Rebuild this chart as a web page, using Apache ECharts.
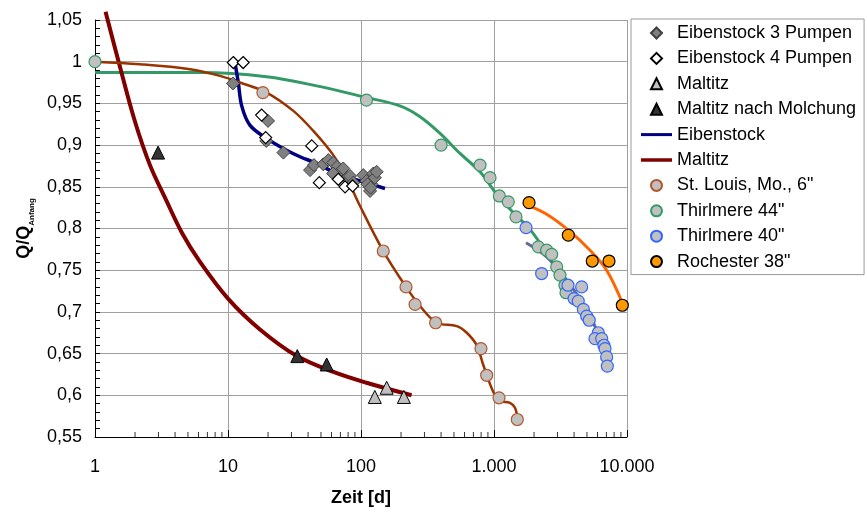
<!DOCTYPE html>
<html><head><meta charset="utf-8">
<script src="https://cdn.jsdelivr.net/npm/echarts@6/dist/echarts.min.js"></script>
<style>html,body{margin:0;padding:0;background:#fff}#c{width:867px;height:512px}</style>
</head><body><div id="c"></div>
<script>
// ---- data (x = Zeit [d], y = Q/Q_Anfang) ----
const eib3 = [[10.9,0.974],[20.0,0.929],[19.4,0.905],[26.1,0.891],[41.4,0.870],[44.3,0.876],[52.1,0.877],[56.8,0.882],[61.9,0.879],[66.0,0.874],[69.5,0.868],[61.7,0.866],[78.0,0.861],[73.5,0.872],[82.7,0.863],[87.5,0.855],[104,0.864],[110,0.857],[124,0.866],[120,0.853],[117,0.845],[127,0.861],[112,0.853],[131,0.868],[118,0.849]];
const eib4 = [[10.96,0.999],[13.0,0.999],[17.9,0.936],[19.2,0.909],[42.6,0.899],[48.6,0.855],[67.5,0.859],[75.9,0.850],[86.5,0.851]];
const maltitz = [[127,0.598],[156,0.609],[210,0.598]];
const maltitzMolch = [[2.98,0.891],[33.2,0.647],[55.2,0.637]];
const eibLine = [[11.25,1.0],[11.95,0.975],[12.68,0.947],[14.6,0.924],[19.5,0.908],[26.0,0.896],[34.8,0.886],[46.4,0.878],[69.5,0.864],[98.3,0.857],[151.5,0.848]];
const maltitzLine = [[1.2,1.06],[1.54,0.994],[2.0,0.928],[2.59,0.876],[3.36,0.837],[4.5,0.795],[6.16,0.76],[10,0.716],[17.4,0.679],[33,0.647],[62,0.628],[110,0.615],[240,0.600]];
const stLouis = [[18.3,0.963],[147,0.773],[218,0.730],[255,0.709],[364,0.687],[798,0.656],[881,0.624],[1091,0.597],[1497,0.571]];
const stLouisLine = [[1,1.0],[2.18,0.997],[5.18,0.991],[8.71,0.983],[12.3,0.975],[19.5,0.963],[31.0,0.941],[43.8,0.917],[61.9,0.888],[78.0,0.861],[98.3,0.827],[147,0.773],[218,0.730],[278,0.707],[371,0.687],[525,0.683],[624,0.675],[741,0.660],[832,0.636],[988,0.604],[1109,0.593],[1318,0.591],[1438,0.585],[1497,0.573]];
const thirl44 = [[1,1.0],[110,0.954],[400,0.900],[785,0.876],[933,0.861],[1097,0.839],[1281,0.832],[1463,0.814],[2153,0.778],[2489,0.774],[2716,0.769],[2959,0.754],[3134,0.744],[3417,0.732],[3478,0.723]];
const thirl44Line = [[1,0.987],[6.16,0.987],[19.5,0.982],[46.4,0.971],[110,0.957],[196,0.947],[278,0.934],[393,0.914],[555,0.890],[785,0.868],[1048,0.841],[1397,0.819],[1865,0.799],[2489,0.770],[3523,0.727]];
const thirl40 = [[1741,0.801],[2281,0.746],[3600,0.732],[4560,0.730],[4000,0.716],[4300,0.713],[4698,0.703],[4976,0.695],[5200,0.690],[6083,0.675],[5743,0.668],[6452,0.668],[6700,0.660],[6837,0.656],[7028,0.646],[7112,0.635]];
const thirl40Line = [[1741,0.783],[2489,0.766],[3523,0.738],[4436,0.715],[5580,0.687],[7244,0.644]];
const rochester = [[1834,0.831],[3622,0.792],[5481,0.761],[7322,0.761],[9222,0.708]];
const rochesterLine = [[1834,0.827],[2489,0.817],[3622,0.798],[5270,0.774],[7028,0.750],[9222,0.711]];
// axis ticks
const yTicks = [0.55,0.6,0.65,0.7,0.75,0.8,0.85,0.9,0.95,1,1.05];
const decades = [1,10,100,1000];
const minorMult = [2,3,4,5,6,7,8,9];
const legendNames = ['Eibenstock 3 Pumpen','Eibenstock 4 Pumpen','Maltitz','Maltitz nach Molchung','Eibenstock','Maltitz ','St. Louis, Mo., 6"','Thirlmere 44"','Thirlmere 40"','Rochester 38"'];

const xMinor = [];
decades.forEach(d => minorMult.forEach(m => xMinor.push([d*m, yTicks[0]])));

const FONT = '"Liberation Sans", Arial, sans-serif';
function fmtY(v){ return (Math.round(v*100)/100).toString().replace('.', ','); }
function fmtX(v){ return String(Math.round(v)).replace(/\B(?=(\d{3})+(?!\d))/g, '.'); }

const ICON_DIAMOND = 'path://M0,-1L1,0L0,1L-1,0Z';
const ICON_TRI = 'path://M0,-1L1,1L-1,1Z';
const legendIcons = [ICON_DIAMOND, ICON_DIAMOND, ICON_TRI, ICON_TRI,
  'path://M0,0L31,0L31,3L0,3Z', 'path://M0,0L31,0L31,3.5L0,3.5Z',
  'circle','circle','circle','circle'];

function pts(name, data, symbol, size, fill, border, bw, z){
  return {name, type:'scatter', data, symbol, symbolSize:size, z:z||5,
    itemStyle:{color:fill, borderColor:border, borderWidth:bw||1, opacity:1},
    emphasis:{disabled:true}};
}
function line(name, data, color, width, z, extra){
  return Object.assign({name, type:'line', data, smooth:0.35, symbol:'none', showSymbol:false, z:z||3,
    lineStyle:{color, width}, itemStyle:{color}, emphasis:{disabled:true}}, extra||{});
}

const chart = echarts.init(document.getElementById('c'), null, {renderer:'canvas'});
chart.setOption({
  animation:false,
  backgroundColor:'#fff',
  grid:{left:95, right:240, top:20, bottom:69, containLabel:false},
  legend:{
    data: legendNames.map((n,i)=>({name:n, icon:legendIcons[i]})),
    orient:'vertical', left:631, top:19, itemWidth:31, itemHeight:11, itemGap:5.4,
    padding:[4,8,3,10], borderColor:'#999', borderWidth:1, backgroundColor:'#fff',
    textStyle:{fontFamily:FONT, fontSize:18, color:'#000', lineHeight:20},
    selectedMode:false
  },
  xAxis:{type:'log', logBase:10, min:1, max:10000,
    axisLine:{show:true, onZero:false, lineStyle:{color:'#000', width:1}},
    axisTick:{show:true, inside:true, length:7, lineStyle:{color:'#000'}},
    axisLabel:{fontFamily:FONT, fontSize:18, color:'#000', margin:21, formatter:fmtX},
    splitLine:{show:true, lineStyle:{color:'#a0a0a0', width:1}},
    name:'Zeit [d]', nameLocation:'middle', nameGap:52,
    nameTextStyle:{fontFamily:FONT, fontSize:18, fontWeight:'bold', color:'#000'}
  },
  yAxis:{type:'value', min:yTicks[0], max:yTicks[yTicks.length-1], interval:0.05,
    axisLine:{show:true, onZero:false, lineStyle:{color:'#000', width:1}},
    axisTick:{show:true, inside:true, length:5, lineStyle:{color:'#000'}},
    minorTick:{show:true, splitNumber:5, length:5, lineStyle:{color:'#000'}},
    axisLabel:{fontFamily:FONT, fontSize:18, color:'#000', margin:13, formatter:fmtY},
    splitLine:{show:true, lineStyle:{color:'#a0a0a0', width:1}},
    name:'{a|Q/Q}{b|Anfang}', nameLocation:'middle', nameGap:62, nameRotate:90,
    nameTextStyle:{color:'#000', rich:{
      a:{fontFamily:FONT, fontSize:18, fontWeight:'bold', color:'#000'},
      b:{fontFamily:FONT, fontSize:8, fontWeight:'bold', color:'#000', verticalAlign:'bottom', padding:[0,0,-3,0]}
    }}
  },
  series:[
    {name:'xMinorTicks', type:'scatter', data:xMinor, symbol:'rect', symbolSize:[1,5], symbolOffset:[0,-2.5],
      itemStyle:{color:'#000'}, silent:true, z:1, legendHoverLink:false, emphasis:{disabled:true}},
    line('thirl44Fit', thirl44Line, '#339966', 3, 3),
    line('thirl40Fit', thirl40Line, '#666699', 3, 3),
    line('rochesterFit', rochesterLine, '#ff6600', 3, 3),
    line('Eibenstock', eibLine, '#000080', 3.5, 3),
    pts('Eibenstock 3 Pumpen', eib3, 'diamond', 13, '#808080', '#404040', 1, 4),
    pts('Eibenstock 4 Pumpen', eib4, 'diamond', 12, '#ffffff', '#000000', 1.2, 4),
    line('Maltitz ', maltitzLine, '#800000', 4, 3, {clip:false}),
    pts('Maltitz', maltitz, 'triangle', 13, '#c0c0c0', '#000000', 1, 5),
    pts('Maltitz nach Molchung', maltitzMolch, 'triangle', 13, '#333333', '#000000', 1, 5),
    line('stLouisFit', stLouisLine, '#993300', 2.5, 4),
    pts('St. Louis, Mo., 6"', stLouis, 'circle', 12, '#c0c0c0', '#b5562b', 1.2, 5),
    pts('Thirlmere 44"', thirl44, 'circle', 12, '#c0c0c0', '#339966', 1.2, 5),
    pts('Thirlmere 40"', thirl40, 'circle', 12, '#c0c0c0', '#3366ff', 1.2, 5),
    pts('Rochester 38"', rochester, 'circle', 12, '#ff9900', '#000000', 1.2, 6)
  ]
});
</script></body></html>
